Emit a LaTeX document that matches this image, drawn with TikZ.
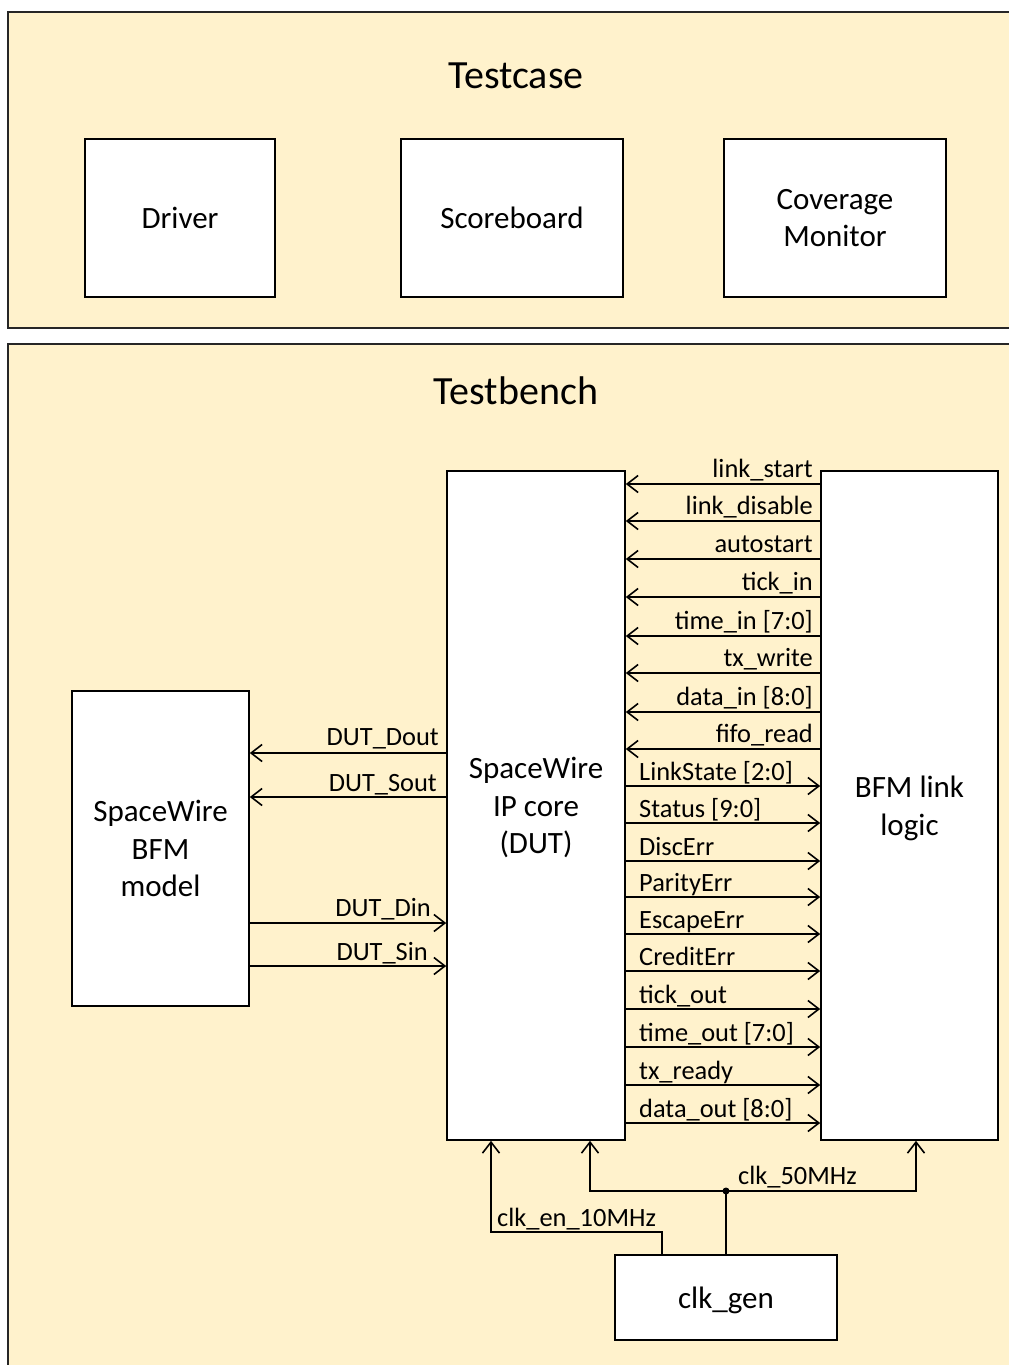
\documentclass[tikz,border=0pt]{standalone}
\usepackage{fontspec}
\setmainfont{Carlito}
\usetikzlibrary{arrows.meta}
\definecolor{bg}{HTML}{FFF2CC}
\begin{document}
\begin{tikzpicture}[x=1pt,y=-1pt,
  box/.style={draw=black, fill=white, line width=1.6pt, align=center, inner sep=0pt, font=\fontsize{31}{37.5}\selectfont},
  container/.style={draw=black!85, fill=bg, line width=1.6pt},
  title/.style={font=\fontsize{40}{48}\selectfont, inner sep=0pt},
  sig/.style={line width=1.6pt, -{Straight Barb[length=11pt,width=17pt]}},
  wire/.style={line width=1.6pt},
  lab/.style={inner sep=0pt, font=\fontsize{26.4}{32}\selectfont}]
\useasboundingbox (0,0) rectangle (1009,1365);
\fill[white] (0,0) rectangle (1009,1365);
\begin{scope}
\clip (0,0) rectangle (1009,1365);
\draw[container] (8,12) rectangle (1030,328);
\draw[container] (8,344) rectangle (1030,1390);
\end{scope}
\node[title, anchor=base] (tctitle) at (516,88) {Testcase};
\node[title, anchor=base] (tbtitle) at (516,404) {Testbench};
% boxes
\node[box, minimum width=190, minimum height=158] (drv) at (180,218) {Driver};
\node[box, minimum width=222, minimum height=158] (sb) at (512,218) {Scoreboard};
\node[box, minimum width=222, minimum height=158] (cov) at (835,218) {Coverage\\Monitor};
\node[box, minimum width=177, minimum height=315] (bfm) at (160.5,848.5) {SpaceWire\\BFM\\model};
\node[box, text depth=0pt, minimum width=178, minimum height=669] (dut) at (536,805.5) {SpaceWire\\IP core\\(DUT)};
\node[box, text depth=0pt, minimum width=177, minimum height=669] (link) at (909.5,805.5) {BFM link\\logic};
\node[box, text depth=0pt, minimum width=222, minimum height=85] (clk) at (726,1297.5) {clk\_gen};
% inputs to DUT
\foreach \y/\t in {484/link\_start, 521/link\_disable, 559/autostart, 597/tick\_in, 636/time\_in [7:0], 673/tx\_write, 712/data\_in [8:0], 749/fifo\_read} {
  \draw[sig] (link.west |- 0,\y) -- (dut.east |- 0,\y);
  \node[lab, anchor=base east] (in\y) at (813,\y-7) {\t};
}
% outputs from DUT
\foreach \y/\t in {786/LinkState [2:0], 823/Status [9:0], 861/DiscErr, 897/ParityErr, 934/EscapeErr, 971/CreditErr, 1009/tick\_out, 1047/time\_out [7:0], 1085/tx\_ready, 1123/data\_out [8:0]} {
  \draw[sig] (dut.east |- 0,\y) -- (link.west |- 0,\y);
  \node[lab, anchor=base west] (out\y) at (639,\y-6) {\t};
}
% left side
\draw[sig] (dut.west |- 0,753) -- (bfm.east |- 0,753);
\node[lab, anchor=base east] (ldout) at (439,745) {DUT\_Dout};
\draw[sig] (dut.west |- 0,797) -- (bfm.east |- 0,797);
\node[lab, anchor=base east] (lsout) at (437,791) {DUT\_Sout};
\draw[sig] (bfm.east |- 0,923) -- (dut.west |- 0,923);
\node[lab, anchor=base east] (ldin) at (431,916) {DUT\_Din};
\draw[sig] (bfm.east |- 0,966) -- (dut.west |- 0,966);
\node[lab, anchor=base east] (lsin) at (428,960) {DUT\_Sin};
% clocks
\coordinate (j) at (726,1191);
\coordinate (e) at (491,1232);
\draw[sig] (j) -| (dut.south -| 590,0);
\draw[sig] (j) -| (link.south -| 916,0);
\draw[wire] (j) -- (clk.north);
\fill (j) circle (3.5pt);
\draw[sig] (clk.north -| 662,0) |- (e) -- (dut.south -| e);
\node[lab, anchor=base west] (l50) at (738,1184) {clk\_50MHz};
\node[lab, anchor=base west] (l10) at (497,1226) {clk\_en\_10MHz};
\end{tikzpicture}
\end{document}
